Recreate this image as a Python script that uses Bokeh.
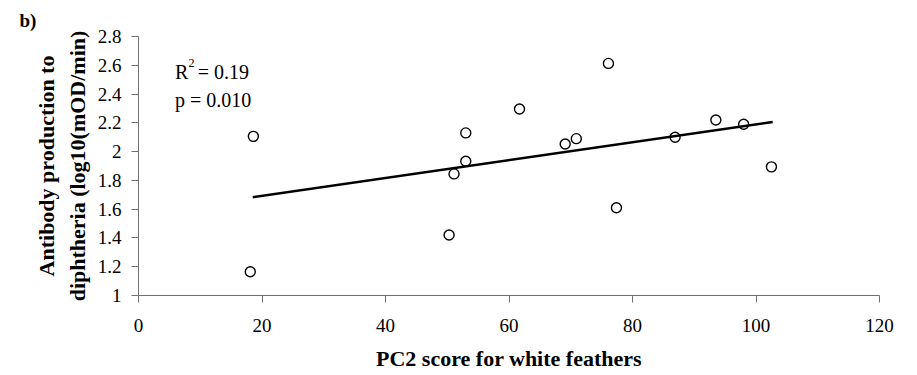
from bokeh.plotting import figure
from bokeh.models import Label, Range1d, FixedTicker
from bokeh.embed import file_html
from bokeh.resources import INLINE

# data
pc2_score = [18.1, 18.6, 50.3, 51.1, 53.0, 53.0, 61.7, 69.1, 70.9, 76.1, 77.4, 86.9, 93.5, 98.0, 102.5]
antibody = [1.165, 2.106, 1.42, 1.845, 1.933, 2.13, 2.296, 2.053, 2.09, 2.613, 1.61, 2.10, 2.22, 2.19, 1.894]
trend_x = [18.5, 102.7]
trend_y = [1.683, 2.206]
x_ticks = [0, 20, 40, 60, 80, 100, 120]
y_ticks = [1, 1.2, 1.4, 1.6, 1.8, 2, 2.2, 2.4, 2.6, 2.8]
y_tick_labels = {1: "1", 1.2: "1.2", 1.4: "1.4", 1.6: "1.6", 1.8: "1.8", 2: "2",
                 2.2: "2.2", 2.4: "2.4", 2.6: "2.6", 2.8: "2.8"}

FONT = "Liberation Serif"
AX = "#707070"

p = figure(width=917, height=375, output_backend="svg", toolbar_location=None,
           x_range=Range1d(0, 120), y_range=Range1d(1, 2.8),
           min_border_left=138, min_border_right=38, min_border_top=36, min_border_bottom=80,
           title="b)")
p.title.align = "left"
p.title.offset = -119
p.title.text_font = FONT
p.title.text_font_style = "bold"
p.title.text_font_size = "19px"
p.title.text_color = "black"
p.title.standoff = 12
p.outline_line_color = None
p.xgrid.visible = False
p.ygrid.visible = False
p.background_fill_color = "white"
p.border_fill_color = "white"

p.line(trend_x, trend_y, line_color="black", line_width=2.6)
p.scatter(pc2_score, antibody, size=10, marker="circle", fill_color=None,
          line_color="black", line_width=1.4)

xa = p.xaxis[0]
xa.ticker = FixedTicker(ticks=x_ticks)
xa.axis_line_color = AX
xa.major_tick_line_color = AX
xa.minor_tick_line_color = None
xa.major_tick_in = 0
xa.major_tick_out = 7
xa.major_label_standoff = 16
xa.major_label_text_font = FONT
xa.major_label_text_font_size = "19px"
xa.major_label_text_color = "black"
xa.axis_label = "PC2 score for white feathers"
xa.axis_label_text_font = FONT
xa.axis_label_text_font_style = "bold"
xa.axis_label_text_font_size = "22px"
xa.axis_label_text_color = "black"
xa.axis_label_standoff = 11

ya = p.yaxis[0]
ya.ticker = FixedTicker(ticks=y_ticks)
ya.major_label_overrides = y_tick_labels
ya.axis_line_color = AX
ya.major_tick_line_color = AX
ya.minor_tick_line_color = None
ya.major_tick_in = 0
ya.major_tick_out = 7
ya.major_label_standoff = 10
ya.major_label_text_font = FONT
ya.major_label_text_font_size = "19px"
ya.major_label_text_color = "black"
ya.axis_label = "Antibody production to\ndiphtheria (log10(mOD/min)"
ya.axis_label_text_font = FONT
ya.axis_label_text_font_style = "bold"
ya.axis_label_text_font_size = "22px"
ya.axis_label_text_color = "black"
ya.axis_label_text_line_height = 1.25
ya.axis_label_standoff = 5

# annotations
p.add_layout(Label(x=5.9, y=2.556, text="R", text_font=FONT, text_font_size="20px",
                   text_color="black", text_baseline="middle"))
p.add_layout(Label(x=8.1, y=2.615, text="2", text_font=FONT, text_font_size="12px",
                   text_color="black", text_baseline="middle"))
p.add_layout(Label(x=9.6, y=2.556, text="= 0.19", text_font=FONT, text_font_size="20px",
                   text_color="black", text_baseline="middle"))
p.add_layout(Label(x=5.9, y=2.36, text="p = 0.010", text_font=FONT, text_font_size="20px",
                   text_color="black", text_baseline="middle"))

open("out.html", "w").write(file_html(p, INLINE))
